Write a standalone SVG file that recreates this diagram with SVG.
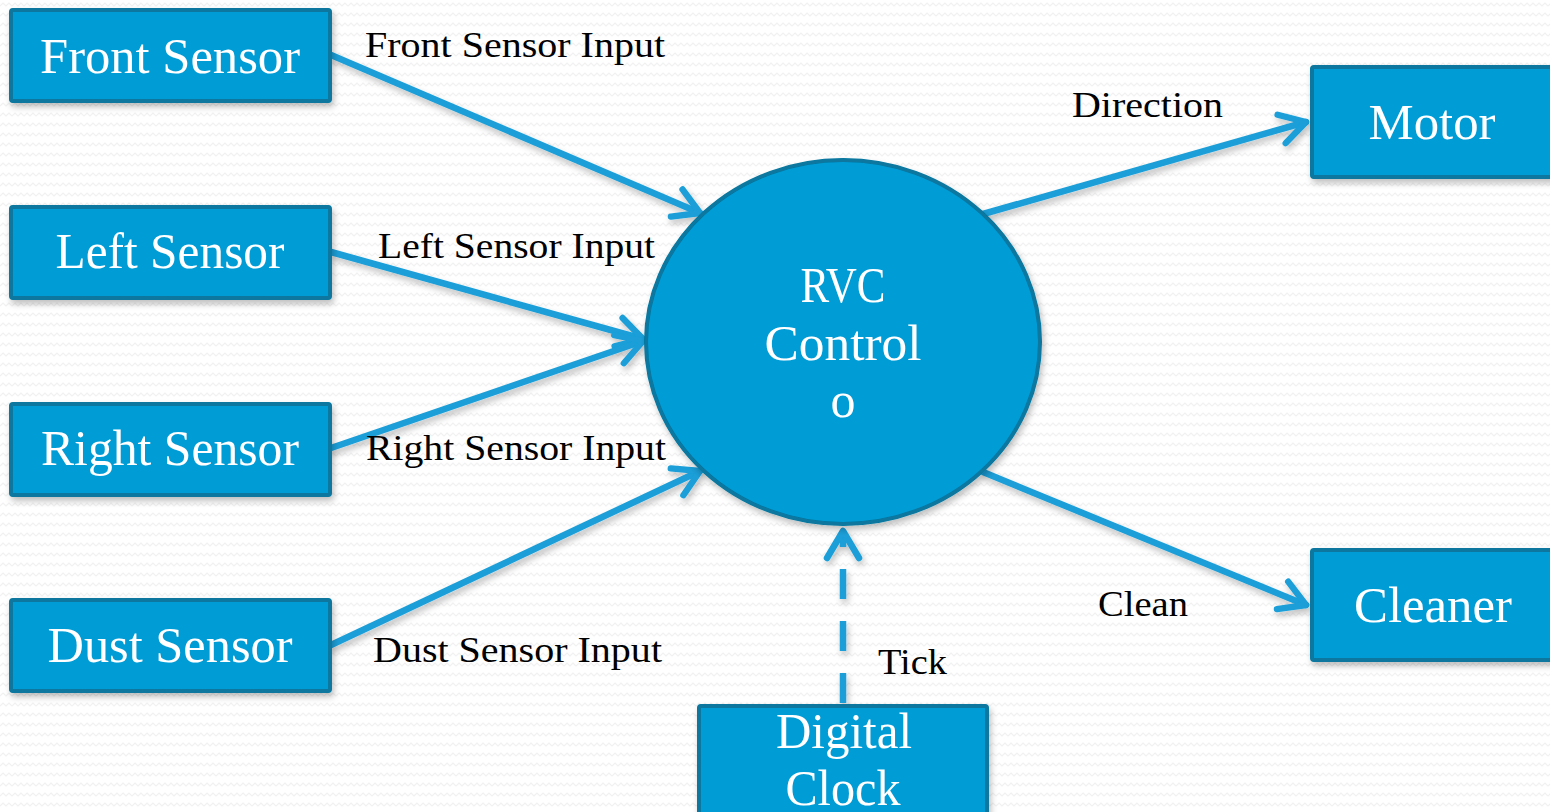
<svg xmlns="http://www.w3.org/2000/svg" width="1550" height="812" viewBox="0 0 1550 812">
<defs>
<pattern id="bg" width="12" height="10" patternUnits="userSpaceOnUse">
<rect width="12" height="10" fill="#ffffff"/>
<path d="M0 6 L3 3 L6 6 L9 3 L12 6" fill="none" stroke="#f1f1f1" stroke-width="1.2"/>
</pattern>
<filter id="sh" x="-20%" y="-20%" width="140%" height="140%">
<feDropShadow dx="2" dy="4" stdDeviation="3" flood-color="#000" flood-opacity="0.25"/>
</filter>
<marker id="arr" viewBox="0 0 20 20" refX="16" refY="10" markerWidth="6.5" markerHeight="6.5" orient="auto" markerUnits="strokeWidth">
<path d="M4 3 L16 10 L4 17" fill="none" stroke="#1a9fd9" stroke-width="3" stroke-linecap="round" stroke-linejoin="round"/>
</marker>
</defs>
<style>
.node{fill:#039cd6;stroke:#07779f;stroke-width:4}
.nt{font-family:"Liberation Serif","DejaVu Serif",serif;font-size:50px;fill:#ffffff;text-anchor:middle}
.lbl{font-family:"Liberation Serif","DejaVu Serif",serif;font-size:35px;fill:#000}
.c{fill:none;stroke:#1a9fd9;stroke-width:6.5;stroke-linecap:round;marker-end:url(#arr)}
</style>
<rect width="1550" height="812" fill="url(#bg)"/>
<g id="connectors" filter="url(#sh)">
<line class="c" x1="331" y1="55" x2="700" y2="213"/>
<line class="c" x1="331" y1="252" x2="643" y2="339"/>
<line class="c" x1="331" y1="448" x2="643" y2="341"/>
<line class="c" x1="331" y1="645" x2="700" y2="471"/>
<line class="c" x1="983" y1="214" x2="1306" y2="122"/>
<line class="c" x1="983" y1="472" x2="1306" y2="605"/>
<line x1="843" y1="703" x2="843" y2="531" fill="none" stroke="#1a9fd9" stroke-width="6.5" stroke-dasharray="30 22"/>
<path d="M827 558 L843 531 L859 558" fill="none" stroke="#1a9fd9" stroke-width="6.5" stroke-linecap="round" stroke-linejoin="round"/>
</g>
<g id="front-sensor" filter="url(#sh)"><rect class="node" x="11" y="10" width="319" height="91" rx="2"/><text class="nt" x="170" y="73" textLength="260" lengthAdjust="spacingAndGlyphs">Front Sensor</text></g>
<g id="left-sensor" filter="url(#sh)"><rect class="node" x="11" y="207" width="319" height="91" rx="2"/><text class="nt" x="170" y="268" textLength="229" lengthAdjust="spacingAndGlyphs">Left Sensor</text></g>
<g id="right-sensor" filter="url(#sh)"><rect class="node" x="11" y="404" width="319" height="91" rx="2"/><text class="nt" x="170" y="465" textLength="258" lengthAdjust="spacingAndGlyphs">Right Sensor</text></g>
<g id="dust-sensor" filter="url(#sh)"><rect class="node" x="11" y="600" width="319" height="91" rx="2"/><text class="nt" x="170" y="662" textLength="245" lengthAdjust="spacingAndGlyphs">Dust Sensor</text></g>
<g id="rvc-control" filter="url(#sh)"><ellipse class="node" cx="843" cy="342" rx="197" ry="182"/><text class="nt" x="843" y="302" textLength="85" lengthAdjust="spacingAndGlyphs">RVC</text><text class="nt" x="843" y="360" textLength="157" lengthAdjust="spacingAndGlyphs">Control</text><text class="nt" x="843" y="417">o</text></g>
<g id="motor" filter="url(#sh)"><rect class="node" x="1312" y="67" width="245" height="110" rx="2"/><text class="nt" x="1432" y="139" textLength="127" lengthAdjust="spacingAndGlyphs">Motor</text></g>
<g id="cleaner" filter="url(#sh)"><rect class="node" x="1312" y="550" width="245" height="110" rx="2"/><text class="nt" x="1433" y="622" textLength="158" lengthAdjust="spacingAndGlyphs">Cleaner</text></g>
<g id="digital-clock" filter="url(#sh)"><rect class="node" x="699" y="706" width="288" height="120" rx="2"/><text class="nt" x="844" y="748" textLength="136" lengthAdjust="spacingAndGlyphs">Digital</text><text class="nt" x="843" y="805" textLength="115" lengthAdjust="spacingAndGlyphs">Clock</text></g>
<g id="labels">
<text class="lbl" x="365" y="57" textLength="300" lengthAdjust="spacingAndGlyphs">Front Sensor Input</text>
<text class="lbl" x="378" y="258" textLength="277" lengthAdjust="spacingAndGlyphs">Left Sensor Input</text>
<text class="lbl" x="366" y="460" textLength="300" lengthAdjust="spacingAndGlyphs">Right Sensor Input</text>
<text class="lbl" x="373" y="662" textLength="289" lengthAdjust="spacingAndGlyphs">Dust Sensor Input</text>
<text class="lbl" x="1072" y="117" textLength="151" lengthAdjust="spacingAndGlyphs">Direction</text>
<text class="lbl" x="1098" y="616" textLength="90" lengthAdjust="spacingAndGlyphs">Clean</text>
<text class="lbl" x="878" y="674" textLength="69" lengthAdjust="spacingAndGlyphs">Tick</text>
</g>
</svg>
